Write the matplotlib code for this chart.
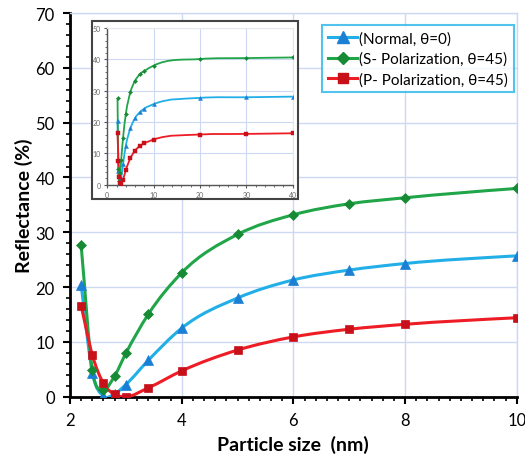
import numpy as np
import matplotlib.pyplot as plt
from matplotlib.path import Path
from matplotlib.patches import PathPatch, Rectangle
from matplotlib.lines import Line2D
from matplotlib.ticker import MultipleLocator

plt.rcParams['font.family'] = ['Lato', 'DejaVu Sans']

# particle size (nm)
size = [2.2, 2.4, 2.6, 2.8, 3.0, 3.4, 4, 5, 6, 7, 8, 10, 20, 30, 40]
# reflectance (%)
normal = [20.4, 4.4, 0.1, 0.5, 2.2, 6.6, 12.5, 18.0, 21.3, 23.1, 24.3, 25.7, 27.7, 27.9, 28.1]
s_pol = [27.6, 4.9, 1.3, 3.8, 7.9, 15.0, 22.6, 29.6, 33.2, 35.2, 36.3, 38.0, 40.1, 40.4, 40.6]
p_pol = [16.6, 7.6, 2.4, 0.4, 0.0, 1.6, 4.7, 8.5, 10.9, 12.3, 13.2, 14.4, 16.0, 16.2, 16.4]

labels = ['(Normal, θ=0)', '(S- Polarization, θ=45)', '(P- Polarization, θ=45)']
line_colors = ['#22aee6', '#20a548', '#ee1c24']
marker_colors = ['#1b7fd4', '#178a35', '#c8101a']
markers = ['^', 'D', 's']
marker_scale = [1.15, 0.85, 1.0]
grid_color = '#cdd9f2'


def smooth_path(x, y):
    # cubic Hermite curve through the points, drawn as Bezier segments
    x = np.asarray(x, float)
    y = np.asarray(y, float)
    h = np.diff(x)
    d = np.diff(y) / h
    m = np.empty_like(y)
    m[0], m[-1] = d[0], d[-1]
    m[1:-1] = (h[1:] * d[:-1] + h[:-1] * d[1:]) / (h[:-1] + h[1:])
    verts = [(x[0], y[0])]
    codes = [Path.MOVETO]
    for i in range(len(x) - 1):
        verts += [(x[i] + h[i] / 3, y[i] + m[i] * h[i] / 3),
                  (x[i + 1] - h[i] / 3, y[i + 1] - m[i + 1] * h[i] / 3),
                  (x[i + 1], y[i + 1])]
        codes += [Path.CURVE4] * 3
    return Path(verts, codes)


def draw_series(ax, lw, ms, mew):
    for ys, lc, mc, mk, sc in zip([normal, s_pol, p_pol], line_colors, marker_colors,
                                  markers, marker_scale):
        ax.add_patch(PathPatch(smooth_path(size, ys), fill=False, edgecolor=lc, lw=lw, zorder=3))
        ax.plot(size, ys, linestyle='none', marker=mk, color=mc, ms=ms * sc,
                markeredgecolor=mc, mew=mew, zorder=4)


fig = plt.figure(figsize=(5.25, 4.56), dpi=100)

# main axes
ax = fig.add_axes([0.1333, 0.128, 0.851, 0.841])
draw_series(ax, 2.2, 6.3, 0.5)
ax.set_xlim(2, 10)
ax.set_ylim(0, 70)
ax.xaxis.set_major_locator(MultipleLocator(2))
ax.xaxis.set_minor_locator(MultipleLocator(0.2))
ax.yaxis.set_major_locator(MultipleLocator(10))
ax.yaxis.set_minor_locator(MultipleLocator(2))
ax.grid(True, which='major', color=grid_color, lw=1.0)
ax.set_axisbelow(True)
for side in ['top', 'right']:
    ax.spines[side].set_color(grid_color)
    ax.spines[side].set_linewidth(1.0)
for side in ['left', 'bottom']:
    ax.spines[side].set_linewidth(2.0)
ax.tick_params(which='major', length=5, width=1.5, labelsize=12, pad=6)
ax.tick_params(which='minor', length=3, width=1.2)
ax.set_xlabel('Particle size  (nm)', fontsize=14, fontweight='bold', labelpad=5)
ax.set_ylabel('Reflectance (%)', fontsize=14, fontweight='bold', labelpad=2)

handles = [Line2D([], [], color=lc, marker=mk, markerfacecolor=mc, markeredgecolor=mc,
                  lw=2.2, ms=7 * sc)
           for lc, mc, mk, sc in zip(line_colors, marker_colors, markers, marker_scale)]
leg = ax.legend(handles, labels, loc='upper right', bbox_to_anchor=(514 / 525, 1 - 26 / 456),
                bbox_transform=fig.transFigure, fontsize=11, frameon=True, fancybox=False,
                handlelength=1.9, handletextpad=0.1, borderpad=0.4, labelspacing=0.4,
                borderaxespad=0)
leg.get_frame().set_edgecolor('#27b4e8')
leg.get_frame().set_linewidth(1.5)

# inset frame and axes
fig.patches.append(Rectangle((0.1747, 0.5614), 0.3935, 0.391, transform=fig.transFigure,
                             facecolor='white', edgecolor='#444444', lw=1.5, zorder=5))
ins = fig.add_axes([0.2044, 0.5928, 0.3531, 0.3436], zorder=6)
draw_series(ins, 1.3, 2.5, 0.3)
ins.set_xlim(0, 40)
ins.set_ylim(0, 50)
ins.xaxis.set_major_locator(MultipleLocator(10))
ins.xaxis.set_minor_locator(MultipleLocator(2))
ins.yaxis.set_major_locator(MultipleLocator(10))
ins.yaxis.set_minor_locator(MultipleLocator(2))
ins.grid(True, which='major', color=grid_color, lw=0.8)
ins.set_axisbelow(True)
for side in ['top', 'right']:
    ins.spines[side].set_color('#e4e8ee')
    ins.spines[side].set_linewidth(0.8)
for side in ['left', 'bottom']:
    ins.spines[side].set_color('#555555')
    ins.spines[side].set_linewidth(1.0)
ins.tick_params(which='major', length=2.5, width=0.8, labelsize=5, labelcolor='#666666',
                color='#555555', pad=2)
ins.tick_params(which='minor', length=1.5, width=0.6, color='#555555')

fig.savefig('out.png', dpi=100)
